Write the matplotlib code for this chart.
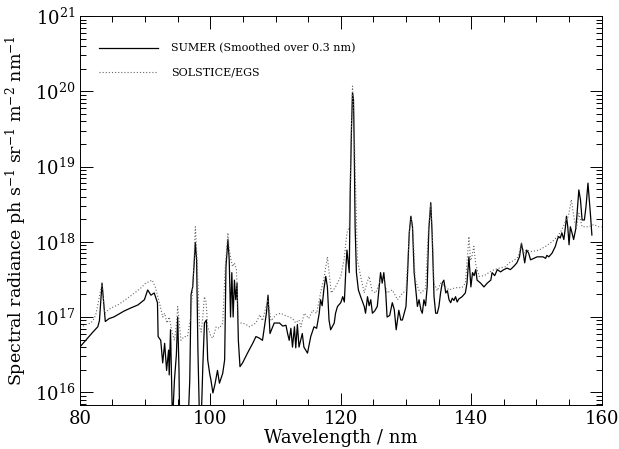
import matplotlib

matplotlib.use("Agg")
import matplotlib.pyplot as plt
import numpy as np
from matplotlib.ticker import LogLocator, MultipleLocator, NullFormatter

# wavelength (nm) and log10 spectral radiance
sumer_wl = [
    80.0, 81.0, 82.0, 82.75, 83.0, 83.2, 83.4, 83.6, 83.9, 84.5, 85.2, 85.8, 86.8, 87.8,
    88.9, 89.9, 90.4, 90.9, 91.4, 91.9, 92.0, 92.4, 92.7, 93.0, 93.3, 93.6, 93.7, 93.9,
    94.2, 94.5, 94.8, 95.0, 95.2, 95.3, 96.6, 96.85, 97.05, 97.3, 97.55, 97.7, 97.9, 98.1,
    98.35, 98.6, 98.85, 99.1, 99.4, 99.6, 99.9, 100.1, 100.4, 100.7, 101.1, 101.4, 101.9,
    102.2, 102.4, 102.7, 102.9, 103.1, 103.3, 103.5, 103.7, 103.9, 104.1, 104.3, 104.55,
    104.95, 105.7, 106.5, 107.0, 107.5, 108.0, 108.6, 108.85, 109.15, 109.8, 110.6, 111.1,
    111.6, 111.85, 112.1, 112.35, 112.6, 112.9, 113.1, 113.35, 113.6, 114.1, 114.35, 114.9,
    115.4, 115.9, 116.3, 116.7, 116.9, 117.15, 117.4, 117.7, 117.95, 118.2, 118.45, 119.0,
    119.2, 119.5, 120.0, 120.3, 120.55, 120.8, 120.95, 121.1, 121.3, 121.45, 121.65, 121.8,
    121.95, 122.05, 122.2, 122.4, 122.7, 123.05, 123.6, 123.8, 124.1, 124.35, 124.6, 124.85,
    125.2, 125.6, 126.1, 126.35, 126.6, 126.9, 127.1, 127.5, 127.9, 128.2, 128.5, 128.9,
    129.2, 129.45, 130.0, 130.2, 130.5, 130.75, 131.0, 131.25, 131.5, 131.75, 132.0, 132.3,
    132.5, 132.75, 133.0, 133.25, 133.5, 133.8, 134.0, 134.3, 134.55, 134.8, 135.05, 135.3,
    135.55, 135.8, 136.1, 136.35, 136.6, 136.85, 137.1, 137.35, 137.6, 137.85, 138.1, 138.6,
    139.1, 139.35, 139.65, 139.8, 139.95, 140.2, 140.45, 140.7, 140.9, 141.45, 141.95, 142.45,
    143.0, 143.2, 143.6, 144.0, 144.5, 145.0, 145.5, 146.0, 146.5, 147.0, 147.4, 147.7,
    147.9, 148.2, 148.5, 148.8, 149.1, 149.6, 150.1, 150.6, 151.0, 151.4, 151.6, 151.9,
    152.4, 152.9, 153.2, 153.4, 153.65, 153.9, 154.2, 154.45, 154.6, 154.8, 155.0, 155.2,
    155.45, 155.7, 156.0, 156.2, 156.5, 156.75, 157.0, 157.35, 157.6, 157.9, 158.1, 158.3,
    158.5,
]
sumer_log = [
    16.60, 16.70, 16.80, 16.87, 16.95, 17.20, 17.45, 17.25, 16.94, 16.98, 17.00, 17.03, 17.08, 17.12,
    17.16, 17.23, 17.36, 17.29, 17.32, 17.19, 16.74, 16.69, 16.39, 16.65, 16.29, 16.56, 16.23, 16.83,
    15.60, 16.16, 16.50, 17.00, 16.30, 15.60, 15.60, 16.16, 17.30, 17.40, 17.75, 17.99, 17.76, 16.56,
    15.60, 15.60, 16.34, 16.92, 16.96, 16.43, 16.25, 16.16, 15.99, 16.10, 16.29, 16.12, 16.25,
    16.43, 17.67, 18.03, 17.76, 17.00, 17.59, 17.00, 17.49, 17.23, 17.45, 16.69, 16.34,
    16.39, 16.52, 16.65, 16.74, 16.72, 16.69, 17.05, 17.29, 16.78, 16.92, 16.92, 16.88,
    16.89, 16.78, 16.69, 16.85, 16.60, 16.87, 16.59, 16.90, 16.60, 16.78, 16.60, 16.52,
    16.74, 16.87, 16.85, 17.05, 17.23, 17.15, 17.36, 17.54, 17.40, 16.96, 16.83, 16.92,
    17.05, 17.14, 17.19, 17.27, 17.20, 17.67, 17.89, 17.76, 17.59, 18.65, 19.54, 19.98,
    19.89, 19.36, 18.20, 17.59, 17.36, 17.27, 17.14, 17.05, 17.27, 17.15, 17.23, 17.05,
    17.08, 17.14, 17.59, 17.45, 17.59, 17.32, 17.00, 17.02, 17.19, 17.10, 16.83, 17.09,
    16.96, 16.96, 17.14, 17.49, 18.12, 18.34, 18.20, 17.59, 17.36, 17.14, 17.23, 17.09,
    17.05, 17.23, 17.15, 17.40, 18.16, 18.52, 18.12, 17.27, 17.05, 17.05, 17.14, 17.32,
    17.45, 17.49, 17.32, 17.35, 17.23, 17.19, 17.25, 17.22, 17.27, 17.20, 17.24, 17.27,
    17.32, 17.45, 17.80, 17.60, 17.40, 17.59, 17.55, 17.63, 17.49, 17.45, 17.40, 17.45,
    17.49, 17.59, 17.55, 17.63, 17.60, 17.63, 17.65, 17.63, 17.67, 17.72, 17.80, 17.98,
    17.89, 17.72, 17.89, 17.85, 17.76, 17.78, 17.80, 17.80, 17.80, 17.78, 17.82, 17.80,
    17.85, 17.94, 18.03, 18.07, 18.05, 18.12, 18.03, 18.20, 18.34, 18.20, 17.96, 18.20,
    18.12, 18.03, 18.16, 18.34, 18.69, 18.56, 18.29, 18.29, 18.47, 18.78, 18.56, 18.34,
    18.09,
]

solstice_wl = [
    80.0, 80.5, 81.0, 81.7, 82.2, 82.5, 83.0, 83.4, 83.8, 84.3, 84.8, 85.8, 86.5, 87.3,
    88.4, 89.4, 90.1, 90.6, 91.1, 91.6, 92.2, 92.7, 93.0, 93.35, 93.7, 94.05, 94.5, 94.8,
    95.0, 95.5, 96.0, 96.5, 97.0, 97.3, 97.5, 97.7, 97.9, 98.1, 98.35, 98.6, 98.85, 99.1,
    99.35, 99.6, 100.1, 100.4, 100.9, 101.4, 101.9, 102.3, 102.7, 102.9, 103.1, 103.4,
    103.7, 104.0, 104.3, 104.95, 105.5, 106.0, 107.0, 107.6, 108.0, 108.8, 109.3, 110.1,
    110.8, 111.5, 112.1, 112.6, 113.1, 113.6, 113.9, 114.4, 115.1, 115.7, 116.3, 116.9,
    117.4, 117.95, 118.2, 118.55, 119.2, 120.0, 120.5, 120.95, 121.3, 121.55, 121.8, 122.0,
    122.3, 122.55, 123.05, 123.6, 124.0, 124.35, 124.8, 125.35, 126.1, 126.6, 127.1, 127.9,
    128.7, 129.5, 130.0, 130.3, 130.6, 130.8, 131.1, 131.4, 132.0, 132.3, 133.0, 133.4,
    133.75, 134.0, 134.3, 134.8, 135.3, 135.8, 136.6, 137.6, 138.6, 139.1, 139.35, 139.65,
    139.9, 140.1, 140.4, 140.7, 141.2, 142.0, 142.7, 143.5, 144.3, 145.3, 145.8, 146.5,
    147.2, 147.7, 148.1, 148.4, 149.3, 150.4, 151.4, 152.4, 153.2, 153.9, 154.45, 154.9,
    155.35, 155.7, 156.1, 156.5, 157.0, 157.5, 158.0, 158.8, 159.5, 160.0,
]
solstice_log = [
    16.87, 16.88, 16.90, 16.92, 16.98, 17.05, 17.27, 17.45, 17.05, 17.09, 17.12, 17.16, 17.20, 17.25,
    17.32, 17.39, 17.45, 17.47, 17.49, 17.39, 17.19, 17.00, 17.05, 16.92, 17.00, 16.83, 16.69, 16.90,
    17.14, 16.69, 16.74, 16.74, 17.00, 17.40, 17.72, 18.20, 17.90, 17.45, 16.87, 16.80, 17.00, 17.27,
    17.20, 16.87, 16.74, 16.72, 16.87, 16.85, 16.92, 17.67, 18.12, 17.90, 17.80, 17.67,
    17.72, 17.63, 16.92, 16.92, 16.90, 16.87, 16.92, 17.03, 16.95, 17.23, 16.95, 17.03,
    17.05, 17.02, 17.00, 16.98, 16.92, 16.96, 16.87, 17.05, 16.98, 17.09, 17.05, 17.32,
    17.50, 17.80, 17.60, 17.32, 17.40, 17.54, 17.76, 18.12, 18.20, 19.20, 20.07, 19.70,
    18.65, 17.76, 17.54, 17.32, 17.45, 17.54, 17.35, 17.32, 17.49, 17.50, 17.32, 17.36,
    17.23, 17.32, 17.35, 17.80, 18.20, 18.30, 18.10, 17.50, 17.35, 17.32, 17.38, 18.10,
    18.50, 18.20, 17.45, 17.35, 17.45, 17.42, 17.36, 17.39, 17.39, 17.45, 17.72, 18.07,
    17.75, 17.80, 17.94, 17.70, 17.54, 17.55, 17.59, 17.63, 17.65, 17.67, 17.72, 17.75,
    17.80, 17.98, 17.85, 17.89, 17.87, 17.89, 17.94, 18.00, 18.07, 18.16, 18.27, 18.34,
    18.56, 18.35, 18.16, 18.38, 18.20, 18.20, 18.20, 18.23, 18.20, 18.20,
]

plt.rcParams.update(
    {
        "font.family": "serif",
        "font.serif": ["DejaVu Serif"],
        "mathtext.fontset": "dejavuserif",
        "font.size": 12,
    }
)

fig = plt.figure(figsize=(6.19, 4.49), dpi=100)
ax = fig.add_axes([0.129, 0.098, 0.843, 0.866])

ax.plot(sumer_wl, 10.0 ** np.asarray(sumer_log), color="black", linewidth=0.9,
        label="SUMER (Smoothed over 0.3 nm)")
ax.plot(solstice_wl, 10.0 ** np.asarray(solstice_log), color="0.4", linewidth=0.8,
        linestyle=(0, (1, 1.8)), label="SOLSTICE/EGS")

ax.set_yscale("log")
ax.set_xlim(80, 160)
ax.set_ylim(10 ** 15.83, 1e21)
ax.xaxis.set_major_locator(MultipleLocator(20))
ax.xaxis.set_minor_locator(MultipleLocator(5))
ax.yaxis.set_major_locator(LogLocator(base=10, numticks=10))
ax.yaxis.set_minor_locator(LogLocator(base=10, subs=np.arange(2, 10), numticks=20))
ax.yaxis.set_minor_formatter(NullFormatter())
ax.tick_params(which="both", direction="in", top=True, right=True, width=0.7)
ax.tick_params(which="major", length=9, labelsize=13)
ax.tick_params(which="minor", length=4.5)
for s in ax.spines.values():
    s.set_linewidth(0.7)

ax.set_xlabel("Wavelength / nm", fontsize=13, labelpad=1)
ax.set_ylabel(r"Spectral radiance ph s$^{-1}$ sr$^{-1}$ m$^{-2}$ nm$^{-1}$", fontsize=12.5, labelpad=4)

ax.legend(loc="upper left", bbox_to_anchor=(0.036, 0.93), frameon=False, fontsize=8,
          handlelength=5.3, handletextpad=1.2, labelspacing=1.25, borderpad=0, borderaxespad=0)

fig.savefig("out.png", dpi=100)
